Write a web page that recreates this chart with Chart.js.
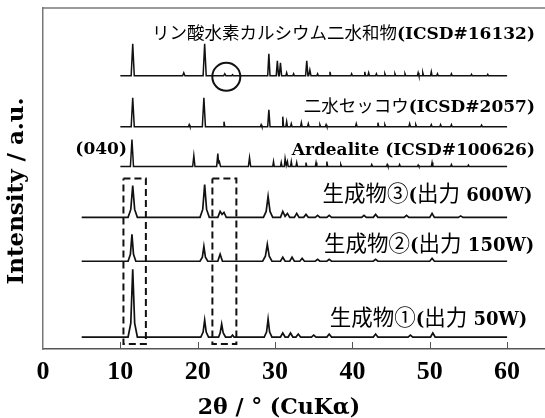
<!DOCTYPE html>
<html>
<head>
<meta charset="utf-8">
<script src="https://cdn.jsdelivr.net/npm/chart.js@4"></script>
<style>
  html, body { margin: 0; padding: 0; background: #fff; overflow: hidden; }
  #wrap { width: 545px; height: 418px; }
</style>
</head>
<body>
<div id="wrap"><canvas id="xrdChart"></canvas></div>
<script>
// 回折パターン: [2θ, 強度] の組 (ベースラインからの相対値)
const dcpdPts = [
  [10,0],[11.4,0],[11.6,32],[11.8,0],
  [18.05,0],[18.2,3],[18.35,0],
  [20.7,0],[20.9,32],[21.1,0],
  [23.35,0],[23.5,2],[23.65,0],
  [24.4,0],[24.5,1],[24.6,0],
  [29.05,0],[29.2,22],[29.35,0],
  [30.15,0],[30.3,15],[30.45,0],[30.55,0],[30.7,13],[30.85,0],
  [31.4,0],[31.5,3],[31.6,0],
  [32.3,0],[32.4,2],[32.5,0],
  [33.95,0],[34.1,15],[34.25,0],[34.35,0],[34.5,6],[34.65,0],
  [35.4,0],[35.5,2],[35.6,0],
  [37.0,0],[37.1,4],[37.2,0],
  [39.8,0],[39.9,2],[40.0,0],
  [41.5,0],[41.6,4],[41.7,0],[42.0,0],[42.1,3],[42.2,0],
  [43.0,0],[43.1,2],[43.2,0],
  [44.1,0],[44.2,2],[44.3,0],
  [45.4,0],[45.5,2],[45.6,0],
  [46.7,0],[46.8,2],[46.9,0],
  [48.4,0],[48.5,3],[48.6,0],[49.0,0],[49.1,3],[49.2,0],
  [50.1,0],[50.2,4],[50.3,0],
  [50.9,0],[51.0,2],[51.1,0],
  [52.7,0],[52.8,2],[52.9,0],
  [55.3,0],[55.4,1.5],[55.5,0],
  [57.4,0],[57.5,1.5],[57.6,0],
  [60,0]
];
const gypsumPts = [
  [10,0],[11.4,0],[11.6,29],[11.8,0],
  [18.8,0],[18.9,2],[19.0,0],
  [20.6,0],[20.8,29],[21.0,0],
  [23.3,0],[23.4,5],[23.5,0],
  [28.1,0],[28.2,2],[28.3,0],
  [29.05,0],[29.2,17],[29.35,0],
  [30.9,0],[31.0,10],[31.1,0],[31.4,0],[31.5,5],[31.6,0],
  [32.0,0],[32.1,3],[32.2,0],
  [33.3,0],[33.4,4],[33.5,0],
  [34.2,0],[34.3,3],[34.4,0],
  [35.7,0],[35.8,2],[35.9,0],
  [36.5,0],[36.6,2],[36.7,0],
  [40.4,0],[40.5,3],[40.6,0],
  [43.2,0],[43.3,4],[43.4,0],
  [44.1,0],[44.2,2],[44.3,0],
  [47.3,0],[47.4,3],[47.5,0],
  [48.1,0],[48.2,2],[48.3,0],
  [50.1,0],[50.2,2],[50.3,0],
  [51.3,0],[51.4,2],[51.5,0],
  [52.7,0],[52.8,2],[52.9,0],
  [56.6,0],[56.7,1.5],[56.8,0],
  [60,0]
];
const ardealitePts = [
  [10,0],[11.3,0],[11.5,27],[11.7,0],
  [19.35,0],[19.5,11],[19.65,0],
  [22.45,0],[22.6,13],[22.7,4],[22.8,5],[22.95,0],
  [26.55,0],[26.7,9],[26.85,0],
  [29.7,0],[29.8,5],[29.9,0],
  [30.7,0],[30.8,4],[30.9,0],
  [31.2,0],[31.3,8],[31.45,1],[31.6,5],[31.7,0],
  [32.0,0],[32.1,5],[32.2,0],
  [32.7,0],[32.8,4],[32.9,0],
  [33.9,0],[34.0,4],[34.1,0],
  [35.2,0],[35.3,4],[35.4,0],
  [36.6,0],[36.7,5],[36.8,0],
  [38.4,0],[38.5,2],[38.6,0],
  [42.4,0],[42.5,2],[42.6,0],
  [44.4,0],[44.5,2],[44.6,0],
  [46.0,0],[46.1,2],[46.2,0],
  [48.4,0],[48.5,1.5],[48.6,0],
  [50.2,0],[50.3,4],[50.4,0],
  [52.7,0],[52.8,2],[52.9,0],
  [54.9,0],[55.0,1.5],[55.1,0],
  [60,0]
];
const sample3Pts = [
  [5,0],[11.0,0],[11.35,8],[11.6,32],[11.85,8],[12.2,0],
  [20.3,0],[20.65,8],[20.9,33],[21.15,8],[21.5,0],
  [22.6,0],[22.9,6],[23.15,3],[23.4,5],[23.7,0],
  [28.5,0],[28.85,6],[29.1,21],[29.35,6],[29.7,0],
  [30.7,0],[31.0,6],[31.3,1],[31.6,4],[31.9,0],
  [32.5,0],[32.8,4],[33.1,0],
  [33.7,0],[34.0,3],[34.3,0],
  [35.2,0],[35.5,2],[35.8,0],
  [36.7,0],[37.0,2],[37.3,0],
  [41.2,0],[41.5,2],[41.8,0],
  [42.7,0],[43.0,3],[43.3,0],
  [46.7,0],[47.0,2],[47.3,0],
  [50.0,0],[50.3,4],[50.6,0],
  [53.7,0],[54.0,1.5],[54.3,0],
  [60,0]
];
const sample2Pts = [
  [5,0],[11.0,0],[11.3,7],[11.5,27],[11.7,7],[12.0,0],
  [20.3,0],[20.6,4],[20.8,15],[21.0,4],[21.3,0],
  [22.6,0],[22.9,7],[23.2,0],
  [28.4,0],[28.75,5],[29.0,17],[29.25,5],[29.6,0],
  [30.7,0],[31.0,4],[31.3,0],
  [31.9,0],[32.2,4],[32.5,0],
  [33.2,0],[33.5,3],[33.8,0],
  [35.2,0],[35.5,2],[35.8,0],
  [36.7,0],[37.0,2],[37.3,0],
  [42.7,0],[43.0,2],[43.3,0],
  [50.0,0],[50.3,3],[50.6,0],
  [60,0]
];
const sample1Pts = [
  [5,0],[11.0,0],[11.35,14],[11.6,68],[11.85,14],[12.2,0],
  [20.4,0],[20.7,5],[20.9,17],[21.1,5],[21.4,0],
  [22.7,0],[22.9,4],[23.1,13],[23.3,4],[23.6,0],
  [24.3,0],[24.5,2],[24.7,0],
  [28.6,0],[28.9,5],[29.1,18],[29.3,5],[29.6,0],
  [30.7,0],[31.0,4],[31.3,0],
  [31.7,0],[32.0,4],[32.3,0],
  [32.7,0],[33.0,3],[33.3,0],
  [34.7,0],[35.0,2],[35.3,0],
  [36.7,0],[37.0,3],[37.3,0],
  [42.7,0],[43.0,3],[43.3,0],
  [47.2,0],[47.5,2],[47.8,0],
  [50.1,0],[50.4,4],[50.7,0],
  [60,0]
];

const xTicks = [0, 10, 20, 30, 40, 50, 60];
const xTitle = '2θ / ° (CuKα)';
const yTitle = 'Intensity / a.u.';
const labelTexts = [
  'リン酸水素カルシウム二水和物(ICSD#16132)',
  '二水セッコウ(ICSD#2057)',
  'Ardealite (ICSD#100626)',
  '生成物③(出力 600W)',
  '生成物②(出力 150W)',
  '生成物①(出力 50W)',
  '(040)'
];
// 点線の枠 (2θ範囲) と丸印の位置
const boxRanges = [[10.4, 13.3], [21.9, 25.0]];
const boxLevels = [5, 171];
const circleAt = [23.7, 273];

// 重ね表示のオフセット / ラベル位置 [右端2θ, 中心, 和文サイズ, 欧文サイズ]
const offsets = [274, 223, 183, 132, 88, 12];
const labelPos = [
  [63.6, 317, 17.5, 17], [63.6, 244, 17.5, 17], [63.6, 201, 17.5, 17],
  [63.3, 156, 21.5, 18], [63.5, 106, 21.5, 18], [62.6, 32, 21.5, 18],
  [10.85, 202, 17.5, 17]
];

const trace = (pts, off, w) => ({
  data: pts.map(p => ({ x: p[0], y: p[1] + off })),
  borderColor: '#111',
  borderWidth: w,
  pointRadius: 0,
  tension: 0,
  fill: false
});

const datasets = [
  trace(dcpdPts, offsets[0], 1.5),
  trace(gypsumPts, offsets[1], 1.5),
  trace(ardealitePts, offsets[2], 1.5),
  trace(sample3Pts, offsets[3], 1.7),
  trace(sample2Pts, offsets[4], 1.7),
  trace(sample1Pts, offsets[5], 1.7)
];
boxRanges.forEach(r => {
  datasets.push({
    data: [
      { x: r[0], y: boxLevels[1] }, { x: r[1], y: boxLevels[1] },
      { x: r[1], y: boxLevels[0] }, { x: r[0], y: boxLevels[0] },
      { x: r[0], y: boxLevels[1] }
    ],
    borderColor: '#111',
    borderWidth: 2,
    borderDash: [7, 4],
    pointRadius: 0,
    tension: 0,
    fill: false
  });
});

const latinFont = '"DejaVu Serif", "Liberation Serif", serif';
const cjk = /[\u2460-\u24ff\u3000-\u30ff\u4e00-\u9fff]/;
const drawMixed = (ctx, text, xRight, yMid, cjkSize, latSize) => {
  const runs = text.match(/[\u2460-\u24ff\u3000-\u30ff\u4e00-\u9fff]+|[^\u2460-\u24ff\u3000-\u30ff\u4e00-\u9fff]+/g);
  const fonts = runs.map(r => cjk.test(r) ? `${cjkSize}px "Noto Sans CJK JP"` : `bold ${latSize}px ${latinFont}`);
  const widths = runs.map((r, i) => { ctx.font = fonts[i]; return ctx.measureText(r).width; });
  let x = xRight - widths.reduce((a, b) => a + b, 0);
  const base = yMid + 0.36 * Math.max(cjkSize, latSize);
  ctx.textAlign = 'left';
  ctx.textBaseline = 'alphabetic';
  ctx.fillStyle = '#000';
  runs.forEach((r, i) => { ctx.font = fonts[i]; ctx.fillText(r, x, base); x += widths[i]; });
};

const extras = {
  id: 'extras',
  afterDraw(chart) {
    const { ctx, chartArea: a, scales: { x, y } } = chart;
    ctx.save();
    // 上枠
    ctx.strokeStyle = '#777';
    ctx.lineWidth = 1.5;
    ctx.beginPath();
    ctx.moveTo(a.left, a.top);
    ctx.lineTo(a.right, a.top);
    ctx.stroke();
    // 内向きの目盛り
    ctx.strokeStyle = '#555';
    ctx.lineWidth = 1;
    xTicks.slice(1).forEach(v => {
      const px = Math.round(x.getPixelForValue(v)) + 0.5;
      ctx.beginPath();
      ctx.moveTo(px, a.bottom);
      ctx.lineTo(px, a.bottom - 7);
      ctx.stroke();
    });
    // 丸印
    ctx.strokeStyle = '#111';
    ctx.lineWidth = 2;
    ctx.beginPath();
    ctx.arc(x.getPixelForValue(circleAt[0]), y.getPixelForValue(circleAt[1]), 14, 0, Math.PI * 2);
    ctx.stroke();
    // ラベル
    labelTexts.forEach((t, i) => {
      const p = labelPos[i];
      drawMixed(ctx, t, x.getPixelForValue(p[0]), y.getPixelForValue(p[1]), p[2], p[3]);
    });
    // 軸タイトル
    ctx.fillStyle = '#000';
    ctx.textAlign = 'center';
    ctx.textBaseline = 'middle';
    ctx.font = `bold 22px ${latinFont}`;
    ctx.fillText(xTitle, 279, 408);
    ctx.translate(17, 191);
    ctx.rotate(-Math.PI / 2);
    ctx.font = `bold 23px ${latinFont}`;
    ctx.fillText(yTitle, 0, 0);
    ctx.restore();
  }
};

new Chart('xrdChart', {
  type: 'line',
  data: { datasets },
  options: {
    responsive: true,
    maintainAspectRatio: false,
    animation: false,
    layout: { padding: { top: 8, right: 0, left: 43, bottom: 23 } },
    plugins: {
      legend: { display: false },
      tooltip: { enabled: false }
    },
    scales: {
      x: {
        type: 'linear',
        min: 0,
        max: 64.9,
        afterBuildTicks: s => { s.ticks = xTicks.map(v => ({ value: v })); },
        ticks: {
          color: '#000',
          padding: 10,
          maxRotation: 0,
          autoSkip: false,
          font: { family: '"Liberation Serif", serif', size: 26, weight: 'bold', lineHeight: 1 }
        },
        grid: { display: false, drawTicks: false },
        border: { display: true, color: '#555', width: 1.5 }
      },
      y: {
        min: 0,
        max: 342,
        ticks: { display: false },
        grid: { display: false, drawTicks: false },
        border: { display: true, color: '#777', width: 1.5 }
      }
    }
  },
  plugins: [extras]
});
</script>
</body>
</html>
